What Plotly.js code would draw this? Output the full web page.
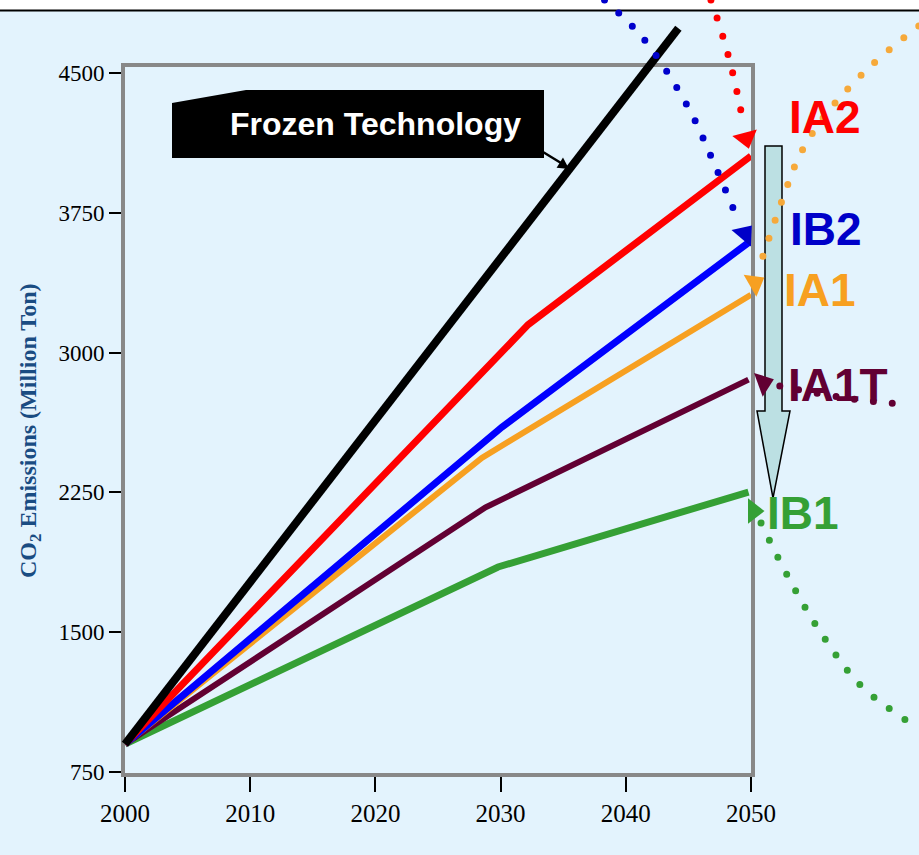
<!DOCTYPE html>
<html>
<head>
<meta charset="utf-8">
<script src="https://cdn.plot.ly/plotly-3.0.1.min.js"></script>
<style>
  html, body { margin: 0; padding: 0; background: #e3f3fd; }
  #chart { width: 919px; height: 855px; }
</style>
</head>
<body>
<div id="chart"></div>
<script>
// ---- Data: CO2 emission scenarios (million ton) ----
const yearTicks = [2000, 2010, 2020, 2030, 2040, 2050];
const valueTicks = [750, 1500, 2250, 3000, 3750, 4500];

const frozenYears = [2000, 2044.2];
const frozen      = [900, 4740];

const ia2Years  = [2000, 2032.2, 2050];
const ia2       = [900, 3150, 4055];

const ib2Years  = [2000, 2030.1, 2049.8];
const ib2       = [900, 2600, 3590];

const ia1Years  = [2000, 2028.5, 2050];
const ia1       = [900, 2435, 3310];

const ia1tYears = [2000, 2028.8, 2049.8];
const ia1t      = [900, 2170, 2855];

const ib1Years  = [2000, 2029.8, 2049.8];
const ib1       = [900, 1850, 2252];

const scenarioNames = ['IA2', 'IB2', 'IA1', 'IA1T', 'IB1'];

// dotted trails running to/from the scenario end points
const ia2TrailYears  = [2046.8, 2047.6, 2048.3, 2048.9, 2049.4];
const ia2Trail       = [4891, 4730, 4564, 4393, 4226];
const ib2TrailYears  = [2038.3, 2041.1, 2043.3, 2045.3, 2046.9, 2048.9];
const ib2Trail       = [4891, 4709, 4505, 4275, 4038, 3722];
const ia1TrailYears  = [2063.4, 2059.4, 2056.0, 2053.9, 2052.5, 2050.8];
const ia1Trail       = [4752, 4527, 4280, 4060, 3819, 3486];
const ia1tTrailYears = [2052.3, 2057.5, 2062.7];
const ia1tTrail      = [2821, 2757, 2719];
const ib1TrailYears  = [2050.8, 2053.1, 2055.7, 2058.8, 2062.9, 2063.4];
const ib1Trail       = [2086, 1780, 1485, 1212, 1002, 975];

// arrow heads at the scenario end points (IA2, IB2, IA1, IA1T, IB1)
const headYears  = [2049.6, 2049.5, 2050.3, 2051.0, 2050.2];
const headValues = [4151, 3636, 3373, 2837, 2150];

// ---- Styling ----
const W = 919, H = 855;
const px = x => x / W;            // pixel -> paper x
const py = y => 1 - y / H;        // pixel -> paper y

const C = {
  black: '#000000', red: '#ff0000', blue: '#0000ff', blueDark: '#0000c8',
  orange: '#f7a021', orangeDot: '#f6a93a', maroon: '#620033', green: '#35a035'
};
const labelColors = [C.red, C.blueDark, C.orange, C.maroon, C.green];
const labelPos = [[825, 117], [826, 229], [820, 290], [838, 385], [803, 513]];
const headAngles = [165, 40, 60, 70, 90];
const headColors = [C.red, C.blueDark, C.orange, C.maroon, C.green];

const xRange = [2000, 2050], yRange = [745, 4532];
const xDomain = [125 / W, 751 / W];
const yDomain = [(H - 773) / H, (H - 67) / H];
// full-page overlay axes sharing the same scale, so marks may run outside the frame
function extend(range, domain) {
  const span = (range[1] - range[0]) / (domain[1] - domain[0]);
  return [range[0] - domain[0] * span, range[0] + (1 - domain[0]) * span];
}

function solid(xs, ys, color, width) {
  return { x: xs, y: ys, mode: 'lines', type: 'scatter', xaxis: 'x', yaxis: 'y',
           line: { color, width }, hoverinfo: 'skip', cliponaxis: false };
}
function dotted(xs, ys, color) {
  return { x: xs, y: ys, mode: 'lines', type: 'scatter', xaxis: 'x2', yaxis: 'y2',
           line: { color, width: 7, dash: '0px,19px', shape: 'spline' }, hoverinfo: 'skip' };
}

const traces = [
  solid(ib1Years, ib1, C.green, 7),
  solid(ia1tYears, ia1t, C.maroon, 6),
  solid(ia1Years, ia1, C.orange, 6),
  solid(ib2Years, ib2, C.blue, 7),
  solid(ia2Years, ia2, C.red, 7),
  { x: frozenYears, y: frozen, mode: 'lines', type: 'scatter', xaxis: 'x2', yaxis: 'y2',
    line: { color: C.black, width: 8 }, hoverinfo: 'skip' },
  dotted(ia2TrailYears, ia2Trail, C.red),
  dotted(ib2TrailYears, ib2Trail, '#0000cc'),
  dotted(ia1TrailYears, ia1Trail, C.orangeDot),
  dotted(ia1tTrailYears, ia1tTrail, C.maroon),
  dotted(ib1TrailYears, ib1Trail, C.green),
  { x: headYears, y: headValues, mode: 'markers', type: 'scatter', xaxis: 'x2', yaxis: 'y2',
    marker: { symbol: 'triangle-up', size: 22, angle: headAngles, color: headColors,
              line: { width: 0 } }, hoverinfo: 'skip', cliponaxis: false }
];

const serif = 'Liberation Serif, Times New Roman, serif';
const sans = 'Liberation Sans, Arial, sans-serif';

function pathOf(pts) {
  return 'M ' + pts.map(p => px(p[0]).toFixed(5) + ',' + py(p[1]).toFixed(5)).join(' L ') + ' Z';
}

const calloutBox = [[172, 103], [246, 90], [544, 90], [544, 158], [172, 158]];
const bigArrow = [[765, 146], [782, 146], [782, 411], [790, 411], [773, 498], [757, 411], [765, 411]];
const pointerHead = [[569, 169], [556.6, 167.7], [563.0, 157.5]];

const shapes = [
  // white strip and rule across the top of the page
  { type: 'rect', xref: 'paper', yref: 'paper', x0: 0, x1: 1, y0: py(10), y1: 1,
    fillcolor: '#ffffff', line: { width: 0 }, layer: 'below' },
  { type: 'line', xref: 'paper', yref: 'paper', x0: 0, x1: 1, y0: py(10.5), y1: py(10.5),
    line: { color: '#000', width: 2 }, layer: 'below' },
  // downward reduction arrow
  { type: 'path', xref: 'paper', yref: 'paper', path: pathOf(bigArrow),
    fillcolor: '#bce0e3', line: { color: '#000', width: 1.5 }, layer: 'below' },
  // "Frozen Technology" callout
  { type: 'path', xref: 'paper', yref: 'paper', path: pathOf(calloutBox),
    fillcolor: '#000', line: { width: 0 }, layer: 'above' },
  { type: 'line', xref: 'paper', yref: 'paper', x0: px(543), y0: py(152), x1: px(561), y1: py(163),
    line: { color: '#000', width: 2.5 }, layer: 'above' },
  { type: 'path', xref: 'paper', yref: 'paper', path: pathOf(pointerHead),
    fillcolor: '#000', line: { width: 0 }, layer: 'above' }
];

const annotations = [
  { xref: 'paper', yref: 'paper', x: px(375), y: py(124), xanchor: 'center', yanchor: 'middle',
    text: '<b>Frozen Technology</b>', showarrow: false,
    font: { family: sans, size: 32, color: '#fff' } },
  { xref: 'paper', yref: 'paper', x: px(30), y: py(431), xanchor: 'center', yanchor: 'middle',
    textangle: -90, showarrow: false,
    text: '<b>CO<sub>2</sub> Emissions (Million Ton)</b>',
    font: { family: serif, size: 24, color: '#1a4c82' } }
].concat(scenarioNames.map((name, i) => ({
  xref: 'paper', yref: 'paper', x: px(labelPos[i][0]), y: py(labelPos[i][1]),
  xanchor: 'center', yanchor: 'middle', showarrow: false,
  text: '<b>' + name + '</b>',
  font: { family: sans, size: 46, color: labelColors[i] }
})));

const layout = {
  width: W, height: H,
  margin: { l: 0, r: 0, t: 0, b: 0, pad: 0 },
  paper_bgcolor: '#e3f3fd', plot_bgcolor: 'rgba(0,0,0,0)',
  showlegend: false,
  xaxis: {
    domain: xDomain, range: xRange, anchor: 'y', fixedrange: true,
    tickmode: 'array', tickvals: yearTicks, ticktext: yearTicks.map(String),
    ticks: 'outside', ticklen: 15, tickwidth: 2, tickcolor: '#000',
    showline: true, linecolor: '#888888', linewidth: 4, mirror: true,
    showgrid: false, zeroline: false,
    tickfont: { family: serif, size: 25, color: '#000' }
  },
  yaxis: {
    domain: yDomain, range: yRange, anchor: 'x', fixedrange: true,
    tickmode: 'array', tickvals: valueTicks, ticktext: valueTicks.map(String),
    ticks: 'outside', ticklen: 12, tickwidth: 2, tickcolor: '#000',
    showline: true, linecolor: '#888888', linewidth: 4, mirror: true,
    showgrid: false, zeroline: false,
    tickfont: { family: serif, size: 23, color: '#000' }
  },
  xaxis2: { domain: [0, 1], range: extend(xRange, xDomain), anchor: 'y2',
            visible: false, fixedrange: true },
  yaxis2: { domain: [0, 1], range: extend(yRange, yDomain), anchor: 'x2',
            visible: false, fixedrange: true },
  shapes, annotations
};

Plotly.newPlot('chart', traces, layout, { displayModeBar: false, staticPlot: true }).then(() => {
  // round caps turn the zero-length dashes into dots
  document.querySelectorAll('path.js-line').forEach(p => {
    if ((p.style.strokeDasharray || '').trim().startsWith('0')) p.style.strokeLinecap = 'round';
  });
});
</script>
</body>
</html>
